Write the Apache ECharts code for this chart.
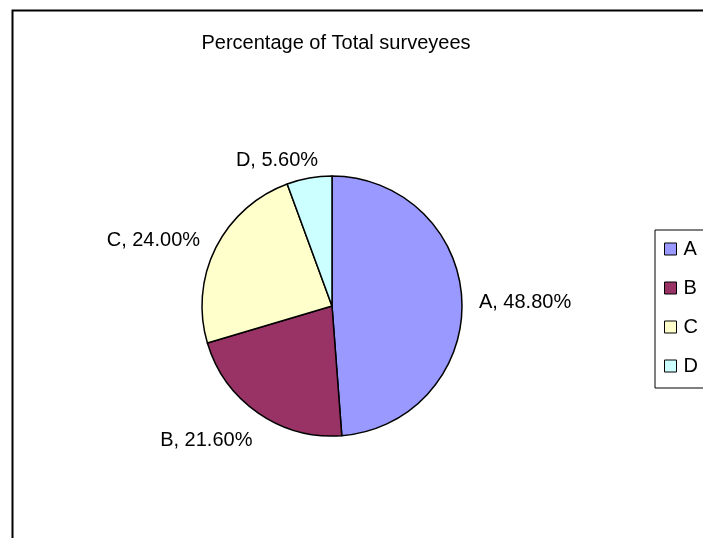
<!DOCTYPE html>
<html>
<head>
<meta charset="utf-8">
<script src="https://cdn.jsdelivr.net/npm/echarts@6/dist/echarts.min.js"></script>
<style>html,body{margin:0;padding:0;background:#fff}#c{width:703px;height:538px}</style>
</head>
<body>
<div id="c"></div>
<script>
const categories = ['A', 'B', 'C', 'D'];
const values = [48.8, 21.6, 24.0, 5.6];
const colors = ['#9999FF', '#993366', '#FFFFCC', '#CCFFFF'];
const titleText = 'Percentage of Total surveyees';

const chart = echarts.init(document.getElementById('c'), null, {renderer: 'canvas'});
const font = 'Liberation Sans, Arial, sans-serif';
// small nudges mimicking Excel's outside-end label placement
const labelNudge = {0: [0, 2], 1: [6, 18], 2: [0, -2], 3: [16, -6]};
chart.setOption({
  animation: false,
  backgroundColor: '#fff',
  title: {
    text: titleText, left: 331, textAlign: 'center', top: 28,
    textStyle: {fontFamily: font, fontSize: 20, fontWeight: 'normal', color: '#000'}
  },
  graphic: [{
    type: 'rect', left: 10, top: 8, silent: true,
    shape: {width: 800, height: 700},
    style: {fill: null, stroke: '#000', lineWidth: 2}
  }],
  legend: {
    orient: 'vertical', left: 655, top: 230,
    padding: [9, 60, 12, 9],
    borderColor: '#000', borderWidth: 1,
    itemWidth: 12, itemHeight: 12, itemGap: 19,
    icon: 'rect',
    itemStyle: {borderColor: '#000', borderWidth: 1},
    textStyle: {fontFamily: font, fontSize: 20, color: '#000', padding: [0, 0, 0, 2]},
    data: categories
  },
  series: [{
    type: 'pie',
    center: [332, 306],
    radius: [0, 130],
    startAngle: 90,
    clockwise: true,
    avoidLabelOverlap: false,
    itemStyle: {borderColor: '#000', borderWidth: 1.5},
    label: {
      show: true, position: 'outside',
      formatter: p => p.name + ', ' + p.value.toFixed(2) + '%',
      fontFamily: font, fontSize: 20, color: '#000'
    },
    labelLine: {show: false, length: 12, length2: 0},
    labelLayout: function (params) {
      const n = labelNudge[params.dataIndex] || [0, 0];
      return {dx: n[0], dy: n[1]};
    },
    emphasis: {disabled: true},
    data: categories.map((c, i) => ({name: c, value: values[i], itemStyle: {color: colors[i]}}))
  }]
});
</script>
</body>
</html>
